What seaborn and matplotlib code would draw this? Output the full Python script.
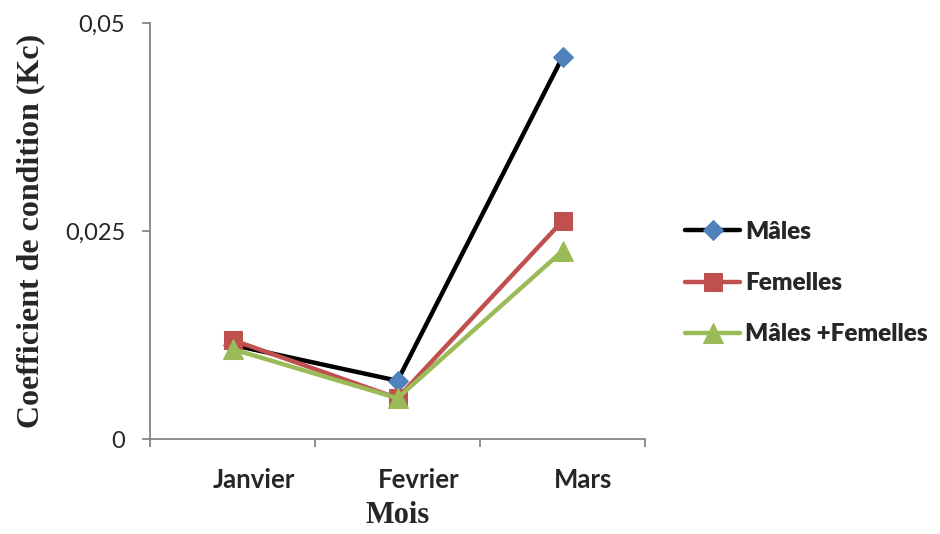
import pandas as pd
import matplotlib.pyplot as plt
import seaborn as sns
from matplotlib.transforms import ScaledTranslation

sns.set_theme(style="white")

mois = ['Janvier', 'Fevrier', 'Mars']
males = [0.0113, 0.0070, 0.0459]
femelles = [0.0119, 0.0049, 0.0262]
males_femelles = [0.0108, 0.0049, 0.0226]
yticks = [0, 0.025, 0.05]
ytick_labels = ['0', '0,025', '0,05']

pos = list(range(len(mois)))

fig = plt.figure(figsize=(9.4, 5.34), dpi=100)
ax = fig.add_axes([0.1596, 0.1779, 0.5266, 0.7791])

# séries : (valeurs, couleur ligne, marqueur, couleur marqueur, taille)
series = [
    ('Mâles', males, 'black', 'D', '#4F81BD', 10),
    ('Femelles', femelles, '#C0504D', 's', '#C0504D', 13),
    ('Mâles +Femelles', males_femelles, '#9BBB59', '^', '#9BBB59', 14),
]
for name, vals, col, mk, mcol, ms in series:
    sns.lineplot(x=pos, y=vals, ax=ax, color=col, linewidth=3.2, sort=False,
                 marker=mk, markersize=ms, markerfacecolor=mcol,
                 markeredgecolor=mcol, label=name)

ax.set_xlim(-0.5, 2.5)
ax.set_ylim(0, 0.05)

# axes style Excel
for side in ['top', 'right']:
    ax.spines[side].set_visible(False)
for side in ['left', 'bottom']:
    ax.spines[side].set_color('#868686')
    ax.spines[side].set_linewidth(1.3)

ax.set_yticks(yticks)
ax.set_yticklabels(ytick_labels, fontsize=17, family='Lato')
ax.tick_params(axis='y', direction='out', length=6, width=1.3, color='#868686', pad=12, left=True)

ax.set_xticks(pos)
ax.set_xticklabels(mois, fontsize=18.5, family='Lato', fontweight='bold')
ax.set_xticks([-0.5, 0.5, 1.5, 2.5], minor=True)
ax.tick_params(axis='x', which='major', length=0, pad=21)
ax.tick_params(axis='x', which='minor', direction='out', length=6, width=1.3, color='#868686', bottom=True)
shift = ScaledTranslation(21 / 100, 0, fig.dpi_scale_trans)
for lab in ax.get_xticklabels():
    lab.set_transform(lab.get_transform() + shift)

ax.set_xlabel('Mois', fontsize=22, family='Liberation Serif', fontweight='bold', labelpad=6)
ax.set_ylabel('Coefficient de condition (Kc)', fontsize=23, family='Liberation Serif',
              fontweight='bold', labelpad=14)
ax.grid(False)

leg = ax.legend(loc='center left', bbox_to_anchor=(0.705, 0.47), bbox_transform=fig.transFigure,
                frameon=False, handlelength=2.3, handletextpad=0.2, labelspacing=1.2,
                prop={'family': 'Lato', 'weight': 'heavy', 'size': 17.5})

plt.savefig('out.png', dpi=100)
